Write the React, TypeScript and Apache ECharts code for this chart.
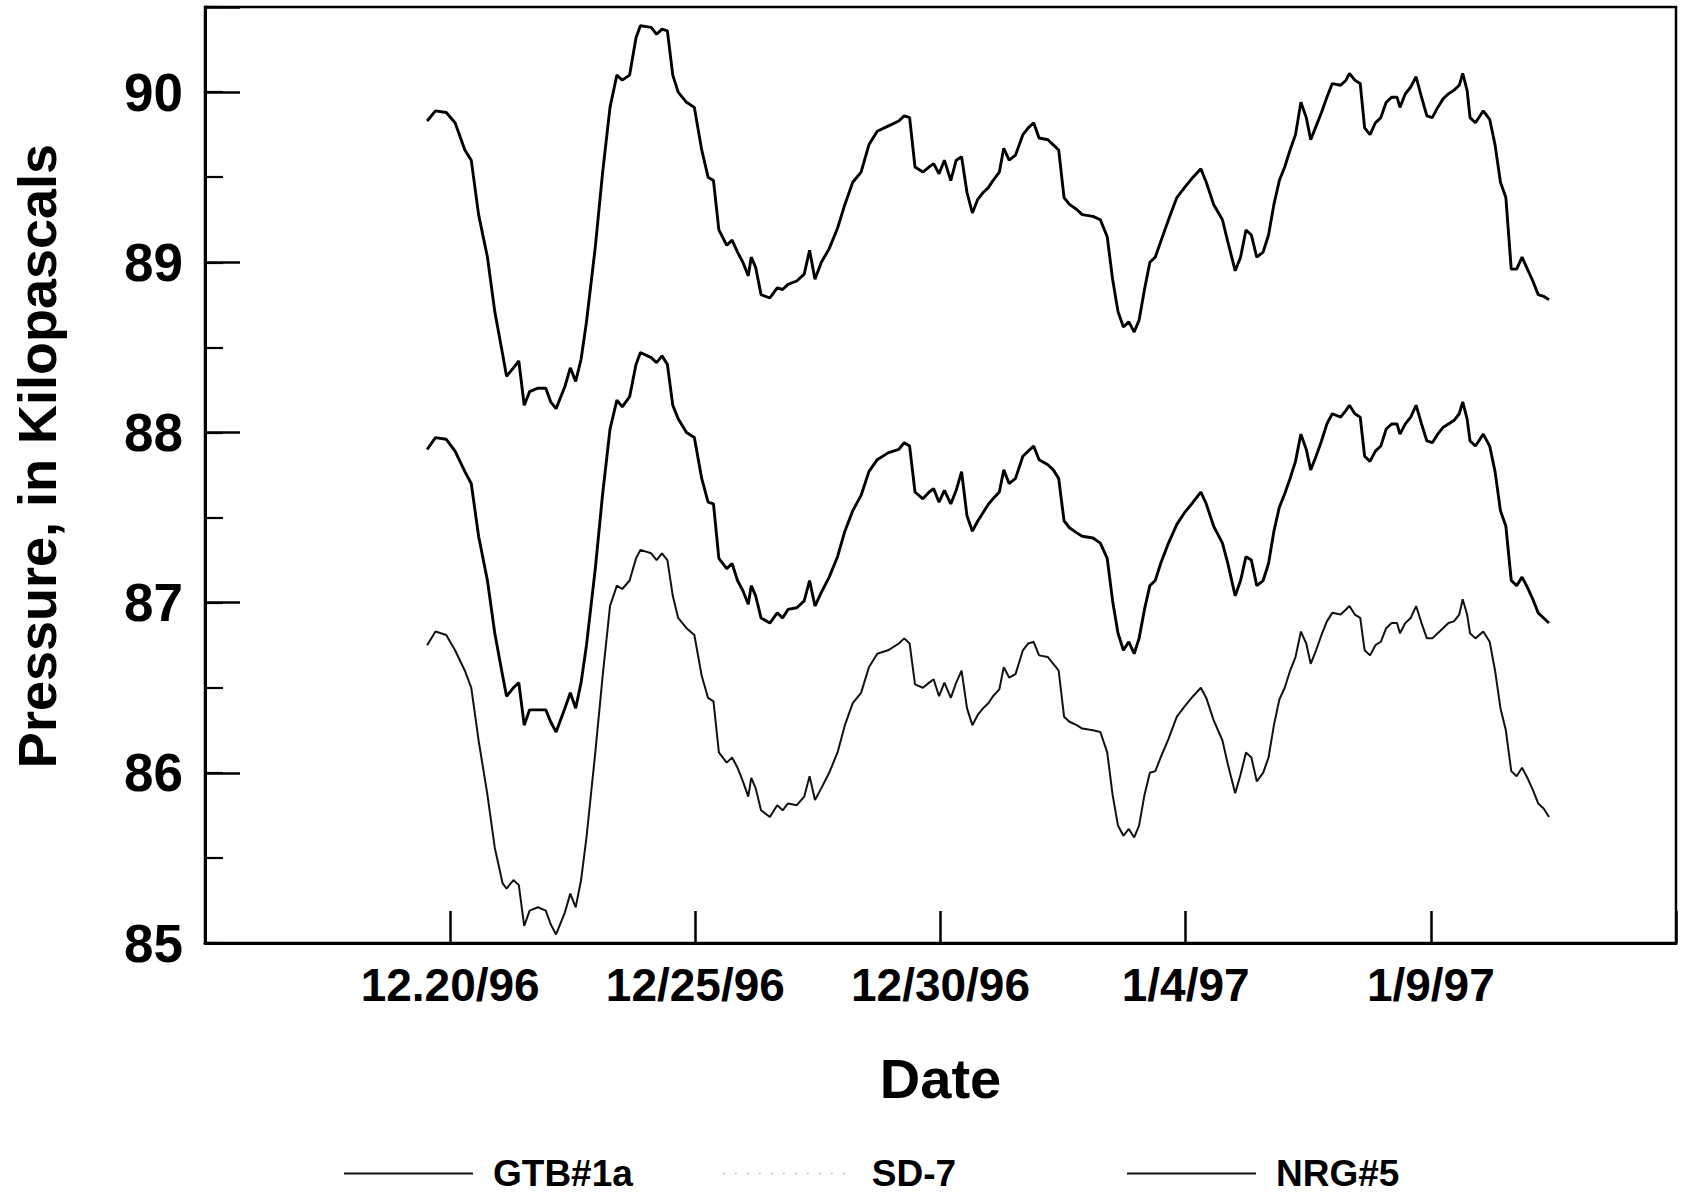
import React, { useEffect, useRef } from "react";
import * as echarts from "echarts";

// Days since 12/15/96 00:00
const days = [
  4.53, 4.7, 4.92, 5.1, 5.3, 5.43, 5.58, 5.76, 5.91, 6.07,
  6.15, 6.29, 6.4, 6.51, 6.62, 6.79, 6.95, 7.05, 7.16, 7.34,
  7.45, 7.56, 7.67, 7.78, 7.96, 8.11, 8.26, 8.4, 8.51, 8.66,
  8.79, 8.88, 9.1, 9.21, 9.32, 9.43, 9.54, 9.65, 9.82, 9.98,
  10.13, 10.26, 10.37, 10.48, 10.64, 10.75, 10.86, 10.97, 11.08, 11.14,
  11.23, 11.34, 11.52, 11.67, 11.78, 11.89, 12.07, 12.22, 12.33, 12.44,
  12.57, 12.73, 12.9, 13.05, 13.21, 13.38, 13.54, 13.71, 13.93, 14.15,
  14.26, 14.37, 14.48, 14.64, 14.77, 14.86, 14.97, 15.08, 15.21, 15.32,
  15.43, 15.54, 15.65, 15.76, 15.87, 15.98, 16.07, 16.2, 16.29, 16.4,
  16.53, 16.68, 16.79, 16.9, 17.01, 17.19, 17.3, 17.41, 17.52, 17.63,
  17.78, 17.89, 18.11, 18.26, 18.4, 18.51, 18.62, 18.73, 18.84, 18.95,
  19.05, 19.16, 19.27, 19.38, 19.49, 19.65, 19.82, 19.98, 20.15, 20.31,
  20.42, 20.57, 20.75, 20.86, 21.01, 21.12, 21.23, 21.34, 21.45, 21.58,
  21.69, 21.8, 21.91, 22.02, 22.13, 22.24, 22.35, 22.46, 22.55, 22.66,
  22.77, 22.88, 22.99, 23.16, 23.27, 23.34, 23.45, 23.56, 23.65, 23.76,
  23.87, 23.98, 24.09, 24.2, 24.31, 24.37, 24.48, 24.59, 24.7, 24.81,
  24.92, 25.03, 25.14, 25.25, 25.36, 25.47, 25.58, 25.65, 25.74, 25.8,
  25.91, 26.07, 26.2, 26.31, 26.42, 26.53, 26.64, 26.75, 26.86, 26.97,
  27.08, 27.19, 27.3, 27.41,
];

const gtb1a = [
  89.83, 89.89, 89.88, 89.82, 89.66, 89.6, 89.28, 89.03, 88.71, 88.46,
  88.33, 88.38, 88.42, 88.16, 88.24, 88.26, 88.26, 88.18, 88.14, 88.27,
  88.38, 88.3, 88.43, 88.65, 89.09, 89.53, 89.91, 90.1, 90.07, 90.1,
  90.32, 90.39, 90.38, 90.34, 90.37, 90.36, 90.1, 90.0, 89.94, 89.91,
  89.66, 89.5, 89.48, 89.19, 89.1, 89.13, 89.06, 89.0, 88.92, 89.03,
  88.97, 88.81, 88.79, 88.85, 88.84, 88.87, 88.89, 88.93, 89.07, 88.9,
  89.0, 89.08, 89.2, 89.34, 89.47, 89.53, 89.69, 89.77, 89.8, 89.83,
  89.86, 89.85, 89.56, 89.53, 89.56, 89.58, 89.52, 89.6, 89.48, 89.6,
  89.62, 89.41, 89.29, 89.37, 89.41, 89.44, 89.48, 89.53, 89.67, 89.6,
  89.63, 89.75, 89.79, 89.82, 89.73, 89.72, 89.69, 89.66, 89.38, 89.34,
  89.31, 89.28, 89.27, 89.25, 89.15, 88.9, 88.71, 88.62, 88.65, 88.59,
  88.66, 88.84, 89.0, 89.03, 89.12, 89.25, 89.38, 89.44, 89.5, 89.55,
  89.47, 89.34, 89.25, 89.12, 88.95, 89.03, 89.19, 89.16, 89.03, 89.06,
  89.16, 89.34, 89.48, 89.56, 89.66, 89.75, 89.94, 89.85, 89.72, 89.8,
  89.88, 89.97, 90.05, 90.04, 90.07, 90.11, 90.07, 90.05, 89.79, 89.75,
  89.82, 89.85, 89.94, 89.97, 89.97, 89.91, 89.99, 90.03, 90.09, 89.97,
  89.86, 89.85, 89.91, 89.96, 89.99, 90.01, 90.04, 90.11, 90.01, 89.85,
  89.82, 89.89, 89.84, 89.69, 89.47, 89.38, 88.96, 88.96, 89.03, 88.96,
  88.89, 88.81, 88.8, 88.78,
];

const nrg5 = [
  87.9, 87.97, 87.96, 87.89, 87.77, 87.7, 87.39, 87.13, 86.82, 86.57,
  86.45, 86.5, 86.53, 86.28, 86.37, 86.37, 86.37, 86.3, 86.24, 86.38,
  86.47, 86.38, 86.53, 86.75, 87.2, 87.64, 88.02, 88.19, 88.15, 88.21,
  88.4, 88.47, 88.44, 88.41, 88.45, 88.4, 88.16, 88.08, 88.0, 87.97,
  87.73, 87.59, 87.58, 87.26, 87.2, 87.23, 87.13, 87.07, 86.99, 87.1,
  87.04, 86.91, 86.88, 86.94, 86.91, 86.96, 86.97, 87.01, 87.13, 86.98,
  87.06, 87.15, 87.27, 87.42, 87.54, 87.63, 87.77, 87.84, 87.88, 87.9,
  87.94, 87.92, 87.65, 87.61, 87.65, 87.67, 87.59, 87.66, 87.58, 87.66,
  87.77, 87.51, 87.42, 87.48, 87.53, 87.58, 87.61, 87.65, 87.78, 87.7,
  87.73, 87.86, 87.89, 87.92, 87.84, 87.81, 87.78, 87.73, 87.48, 87.44,
  87.41, 87.39, 87.38, 87.35, 87.26, 87.01, 86.82, 86.72, 86.77, 86.7,
  86.79, 86.96, 87.1, 87.13, 87.23, 87.35, 87.46, 87.53, 87.59, 87.65,
  87.58, 87.45, 87.35, 87.23, 87.04, 87.13, 87.27, 87.25, 87.1, 87.13,
  87.23, 87.42, 87.56, 87.64, 87.73, 87.83, 87.99, 87.9, 87.78, 87.86,
  87.95, 88.05, 88.11, 88.09, 88.13, 88.16, 88.11, 88.09, 87.86, 87.83,
  87.89, 87.92, 88.02, 88.05, 88.05, 87.99, 88.05, 88.09, 88.16, 88.05,
  87.95, 87.94, 87.99, 88.03, 88.05, 88.07, 88.11, 88.18, 88.08, 87.95,
  87.92, 87.99, 87.92, 87.77, 87.54, 87.45, 87.13, 87.1, 87.15, 87.09,
  87.02, 86.94, 86.91, 86.88,
];

const sd7 = [
  86.75, 86.83, 86.81, 86.72, 86.6, 86.5, 86.19, 85.87, 85.56, 85.35,
  85.32, 85.37, 85.34, 85.1, 85.19, 85.21, 85.19, 85.11, 85.05, 85.18,
  85.29, 85.21, 85.37, 85.62, 86.12, 86.57, 86.98, 87.1, 87.08, 87.13,
  87.26, 87.31, 87.29, 87.25, 87.29, 87.25, 87.04, 86.91, 86.85, 86.81,
  86.57, 86.44, 86.42, 86.12, 86.06, 86.09, 86.03, 85.95, 85.86, 85.97,
  85.91, 85.78, 85.74, 85.81, 85.78, 85.82, 85.81, 85.86, 85.98, 85.84,
  85.91, 86.0, 86.12, 86.28, 86.41, 86.47, 86.62, 86.7, 86.72, 86.76,
  86.79, 86.76, 86.52, 86.5, 86.53, 86.55, 86.45, 86.53, 86.44, 86.53,
  86.6, 86.38, 86.28, 86.34, 86.38, 86.41, 86.45, 86.49, 86.62, 86.56,
  86.58, 86.72, 86.76, 86.77, 86.69, 86.68, 86.64, 86.6, 86.33, 86.3,
  86.28, 86.26, 86.25, 86.24, 86.12, 85.87, 85.69, 85.63, 85.67, 85.62,
  85.69, 85.87, 86.0, 86.01, 86.09, 86.2, 86.33, 86.39, 86.45, 86.5,
  86.44, 86.31, 86.19, 86.05, 85.88, 85.99, 86.12, 86.09, 85.95, 86.0,
  86.09, 86.28, 86.43, 86.5, 86.6, 86.68, 86.83, 86.76, 86.64, 86.72,
  86.81, 86.89, 86.94, 86.93, 86.96, 86.98, 86.93, 86.91, 86.72, 86.69,
  86.75, 86.77, 86.85, 86.88, 86.88, 86.82, 86.88, 86.91, 86.98, 86.88,
  86.79, 86.79, 86.82, 86.85, 86.88, 86.89, 86.93, 87.02, 86.93, 86.82,
  86.79, 86.83, 86.77, 86.6, 86.38, 86.25, 86.01, 85.98, 86.03, 85.97,
  85.9, 85.82, 85.79, 85.74,
];

// x tick labels at day offsets 0,5,...,30
const xTickDays = [0, 5, 10, 15, 20, 25, 30];
const xTickLabels = ["", "12.20/96", "12/25/96", "12/30/96", "1/4/97", "1/9/97", ""];

const FONT = "'Liberation Sans', Arial, Helvetica, sans-serif";

const zip = (xs: number[], ys: number[]) => {
  const n = Math.min(xs.length, ys.length);
  const out: number[][] = [];
  for (let i = 0; i < n; i++) out.push([xs[i], ys[i]]);
  return out;
};

export default function App() {
  const ref = useRef<HTMLDivElement>(null);
  useEffect(() => {
    if (!ref.current) return;
    const chart = echarts.init(ref.current, undefined, { renderer: "svg" });
    const legendBase = {
      top: 1155,
      itemWidth: 129,
      itemHeight: 14,
      padding: 0,
      textStyle: {
        fontFamily: FONT,
        fontSize: 37,
        fontWeight: "bold" as const,
        color: "#000",
        padding: [0, 0, 0, 15],
      },
      selectedMode: false,
    };
    chart.setOption({
      animation: false,
      backgroundColor: "#fff",
      color: ["#000", "#111", "#000"],
      grid: {
        left: 205,
        right: 6,
        top: 7,
        bottom: 250,
        show: true,
        borderColor: "#000",
        borderWidth: 2.5,
        containLabel: false,
      },
      legend: [
        {
          ...legendBase,
          left: 343,
          data: [{ name: "GTB#1a", itemStyle: { opacity: 0 }, lineStyle: { color: "#111", width: 2 } }],
        },
        {
          ...legendBase,
          left: 722,
          data: [
            { name: "SD-7", itemStyle: { opacity: 0 }, lineStyle: { color: "#bbb", width: 1.5, type: [2, 10] } },
          ],
        },
        {
          ...legendBase,
          left: 1126,
          data: [{ name: "NRG#5", itemStyle: { opacity: 0 }, lineStyle: { color: "#111", width: 2 } }],
        },
      ],
      xAxis: {
        type: "value",
        min: 0,
        max: 30,
        interval: 5,
        axisLine: { show: true, lineStyle: { color: "#000", width: 3 } },
        axisTick: { show: true, inside: true, length: 32, lineStyle: { color: "#000", width: 2.5 } },
        splitLine: { show: false },
        axisLabel: {
          margin: 19,
          fontFamily: FONT,
          fontSize: 46,
          fontWeight: "bold",
          color: "#000",
          formatter: (v: number) => {
            const i = xTickDays.indexOf(v);
            return i >= 0 ? xTickLabels[i] : "";
          },
        },
        name: "Date",
        nameLocation: "middle",
        nameGap: 107,
        nameTextStyle: { fontFamily: FONT, fontSize: 56, fontWeight: "bold", color: "#000" },
      },
      yAxis: [
        {
          type: "value",
          min: 85,
          max: 90.5,
          interval: 1,
          position: "left",
          axisLine: { show: true, lineStyle: { color: "#000", width: 3 } },
          axisTick: { show: true, inside: true, length: 35, lineStyle: { color: "#000", width: 2.5 } },
          splitLine: { show: false },
          axisLabel: {
            margin: 22,
            fontFamily: FONT,
            fontSize: 53,
            fontWeight: "bold",
            color: "#000",
            formatter: (v: number) => (Math.abs(v - Math.round(v)) < 1e-6 && v <= 90 ? String(Math.round(v)) : ""),
          },
        },
        {
          type: "value",
          min: 85,
          max: 90.5,
          interval: 0.5,
          position: "left",
          axisLine: { show: false },
          axisTick: { show: true, inside: true, length: 18, lineStyle: { color: "#000", width: 2.2 } },
          axisLabel: { show: false },
          splitLine: { show: false },
        },
      ],
      graphic: [
        {
          type: "text",
          x: 37,
          y: 456,
          rotation: Math.PI / 2,
          style: {
            text: "Pressure, in Kilopascals",
            font: `bold 54px ${FONT}`,
            fill: "#000",
            textAlign: "center",
            textVerticalAlign: "middle",
          },
        },
      ],
      series: [
        {
          name: "GTB#1a",
          type: "line",
          data: zip(days, gtb1a),
          showSymbol: false,
          symbol: "none",
          itemStyle: { color: "#000" },
          lineStyle: { color: "#000", width: 2.9 },
          yAxisIndex: 0,
        },
        {
          name: "SD-7",
          type: "line",
          data: zip(days, sd7),
          showSymbol: false,
          symbol: "none",
          itemStyle: { color: "#111" },
          lineStyle: { color: "#111", width: 2 },
          yAxisIndex: 0,
        },
        {
          name: "NRG#5",
          type: "line",
          data: zip(days, nrg5),
          showSymbol: false,
          symbol: "none",
          itemStyle: { color: "#000" },
          lineStyle: { color: "#000", width: 2.9 },
          yAxisIndex: 0,
        },
      ],
    });
    return () => chart.dispose();
  }, []);
  return (
    <div
      ref={ref}
      style={{ position: "fixed", left: 0, top: 0, width: 1682, height: 1193, background: "#fff" }}
    />
  );
}
